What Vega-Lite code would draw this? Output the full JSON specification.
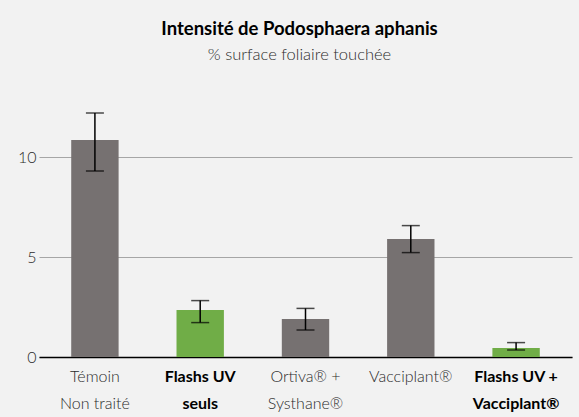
{
  "$schema": "https://vega.github.io/schema/vega-lite/v6.json",
  "autosize": {"type": "none"},
  "padding": {"left": 39, "top": 107, "right": 7, "bottom": 60},
  "width": 533,
  "height": 250,
  "background": "#f2f2f2",
  "config": {
    "font": "Lato",
    "view": {"stroke": null}
  },
  "title": {
    "text": "Intensité de Podosphaera aphanis",
    "subtitle": "% surface foliaire touchée",
    "anchor": "middle",
    "fontSize": 18.5,
    "fontWeight": "bold",
    "color": "#000000",
    "subtitleFontSize": 16.5,
    "subtitleFontWeight": 300,
    "subtitleColor": "#2b2b2b",
    "subtitlePadding": 8,
    "offset": 44,
    "dx": -6
  },
  "data": {
    "values": [
      {"traitement": "Témoin|Non traité", "type": "autre", "valeur": 10.85, "bas": 9.3, "haut": 12.2},
      {"traitement": "Flashs UV|seuls", "type": "uv", "valeur": 2.35, "bas": 1.72, "haut": 2.82},
      {"traitement": "Ortiva® +|Systhane®", "type": "autre", "valeur": 1.9, "bas": 1.35, "haut": 2.43},
      {"traitement": "Vacciplant®", "type": "autre", "valeur": 5.9, "bas": 5.22, "haut": 6.57},
      {"traitement": "Flashs UV +|Vacciplant®", "type": "uv", "valeur": 0.45, "bas": 0.35, "haut": 0.72}
    ]
  },
  "encoding": {
    "x": {
      "field": "traitement",
      "type": "nominal",
      "sort": null,
      "scale": {"paddingInner": 0.55, "paddingOuter": 0.306},
      "axis": {
        "title": null,
        "labelAngle": 0,
        "labelExpr": "split(datum.label, '|')",
        "labelFontSize": 16,
        "labelLineHeight": 27,
        "labelPadding": 11,
        "labelColor": {"condition": {"test": "indexof(datum.label, 'Flashs') >= 0", "value": "#000000"}, "value": "#2b2b2b"},
        "labelFontWeight": {"condition": {"test": "indexof(datum.label, 'Flashs') >= 0", "value": "bold"}, "value": 300},
        "ticks": false,
        "domainColor": "#000000",
        "domainWidth": 1.5,
        "labelLimit": 200
      }
    }
  },
  "layer": [
    {
      "mark": {"type": "bar"},
      "encoding": {
        "y": {
          "field": "valeur",
          "type": "quantitative",
          "scale": {"domain": [0, 12.5], "nice": false},
          "axis": {
            "title": null,
            "values": [0, 5, 10],
            "ticks": false,
            "domain": false,
            "labelFontSize": 16,
            "labelFontWeight": 300,
            "labelColor": "#2b2b2b",
            "labelPadding": 3,
            "gridColor": "#a6a6a6",
            "gridWidth": 1.2
          }
        },
        "color": {
          "field": "type",
          "type": "nominal",
          "scale": {"domain": ["autre", "uv"], "range": ["#767171", "#70ad47"]},
          "legend": null
        }
      }
    },
    {
      "mark": {"type": "rule", "color": "#000000", "strokeWidth": 1.5},
      "encoding": {
        "y": {"field": "bas", "type": "quantitative"},
        "y2": {"field": "haut"}
      }
    },
    {
      "mark": {"type": "tick", "color": "#000000", "thickness": 1.5, "size": 18, "orient": "horizontal"},
      "encoding": {
        "y": {"field": "bas", "type": "quantitative"}
      }
    },
    {
      "mark": {"type": "tick", "color": "#000000", "thickness": 1.5, "size": 18, "orient": "horizontal"},
      "encoding": {
        "y": {"field": "haut", "type": "quantitative"}
      }
    }
  ]
}
